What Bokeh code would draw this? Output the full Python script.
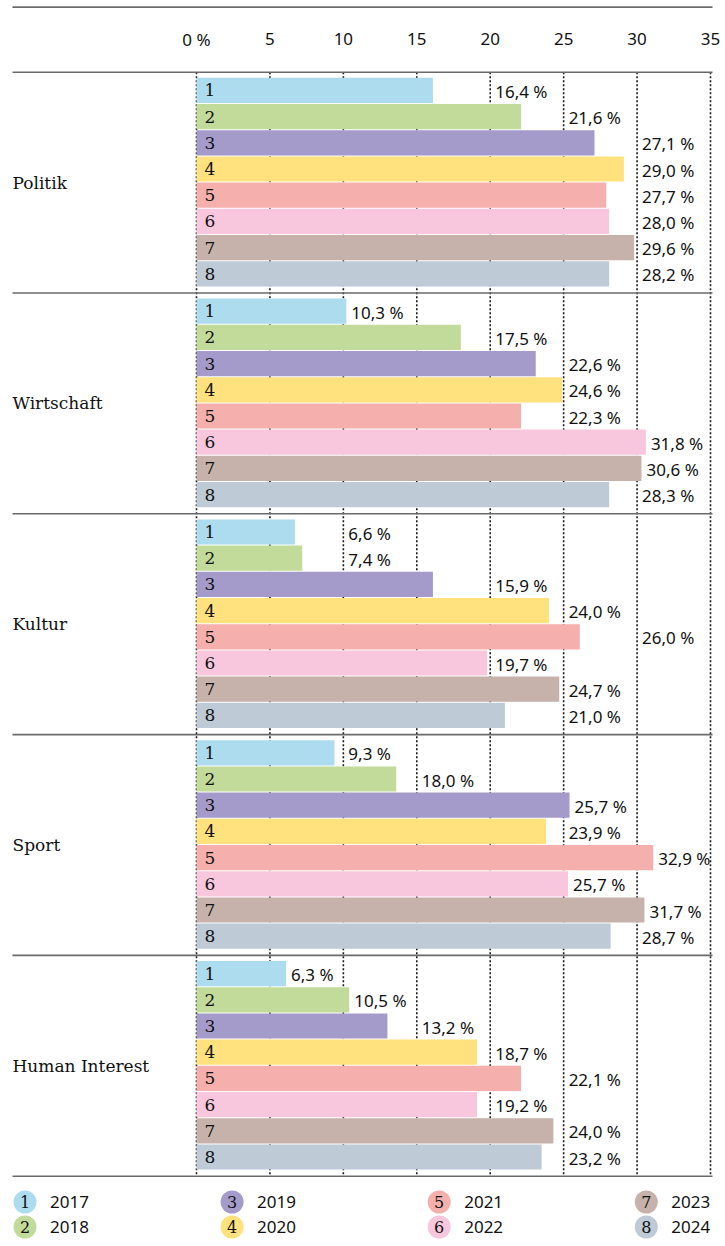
from bokeh.plotting import figure
from bokeh.models import Range1d, ColumnDataSource
from bokeh.embed import file_html
from bokeh.resources import INLINE
from bokeh.core.properties import value

# ---------------- data ----------------
categories = ["Politik", "Wirtschaft", "Kultur", "Sport", "Human Interest"]
years = ["2017", "2018", "2019", "2020", "2021", "2022", "2023", "2024"]
year_numbers = ["1", "2", "3", "4", "5", "6", "7", "8"]
colors = ["#AEDCEF", "#C2DB9A", "#A59BCB", "#FFE17D",
          "#F5AFAC", "#F8C7DE", "#C6B2AB", "#BECAD6"]

# bar lengths as drawn (percent)
politik_bars = [16.1, 22.1, 27.1, 29.1, 27.9, 28.1, 29.8, 28.1]
wirtschaft_bars = [10.2, 18.0, 23.1, 24.9, 22.1, 30.6, 30.3, 28.1]
kultur_bars = [6.7, 7.2, 16.1, 24.0, 26.1, 19.8, 24.7, 21.0]
sport_bars = [9.4, 13.6, 25.4, 23.8, 31.1, 25.3, 30.5, 28.2]
human_bars = [6.1, 10.4, 13.0, 19.1, 22.1, 19.1, 24.3, 23.5]

# printed value labels (percent)
politik_labels = [16.4, 21.6, 27.1, 29.0, 27.7, 28.0, 29.6, 28.2]
wirtschaft_labels = [10.3, 17.5, 22.6, 24.6, 22.3, 31.8, 30.6, 28.3]
kultur_labels = [6.6, 7.4, 15.9, 24.0, 26.0, 19.7, 24.7, 21.0]
sport_labels = [9.3, 18.0, 25.7, 23.9, 32.9, 25.7, 31.7, 28.7]
human_labels = [6.3, 10.5, 13.2, 18.7, 22.1, 19.2, 24.0, 23.2]

tick_values = [0, 5, 10, 15, 20, 25, 30, 35]
tick_labels = ["0 %", "5", "10", "15", "20", "25", "30", "35"]

bar_values = [politik_bars, wirtschaft_bars, kultur_bars, sport_bars, human_bars]
label_values = [politik_labels, wirtschaft_labels, kultur_labels, sport_labels, human_labels]

# ---------------- layout constants (pixels) ----------------
W, H = 725, 1240
X0 = 196.0                 # px of 0 %
PPU = 514.0 / 35.0         # px per percent unit
AXIS_Y = 71.7
GROUP_H = 220.8
BAR_TOP_PAD = 5.6
PITCH = 26.2
BAR_H = 25.2
TOP_RULE_Y = 6.7
TICK_LABEL_Y = 38.5
RULE_L, RULE_R = 12, 712
LABEL_PAD = 5
CHAR_W = 9.0
LEG_X0, LEG_DX = 24.5, 207.1
LEG_Y0, LEG_DY = 1201.5, 25.0

SANS = value("Noto Sans")
SERIF = value("DejaVu Serif")


def px_to_x(px):
    return (px - X0) / PPU


def fmt(v):
    return ("%.1f" % v).replace(".", ",") + " %"


def label_anchor(v, text):
    end_px = v * PPU
    start = end_px + LABEL_PAD
    width = len(text) * CHAR_W
    for t in tick_values[1:-1]:
        gpx = t * PPU
        if end_px < gpx < start + width:
            return t
    return v


p = figure(width=W, height=H,
           x_range=Range1d(px_to_x(0), px_to_x(W)),
           y_range=Range1d(H, 0),
           output_backend="svg", toolbar_location=None,
           x_axis_type=None, y_axis_type=None,
           min_border=0, min_border_left=0, min_border_right=0,
           min_border_top=0, min_border_bottom=0)
p.grid.visible = False
p.outline_line_color = None
p.background_fill_color = "white"
p.border_fill_color = "white"

n_groups = len(categories)
bottom_y = AXIS_Y + n_groups * GROUP_H

# dotted vertical gridlines
p.segment(x0=tick_values, x1=tick_values,
          y0=[AXIS_Y] * len(tick_values), y1=[bottom_y] * len(tick_values),
          line_color="#1a1a1a", line_width=1.6, line_dash="2 2")

# bars
ys, rights, cols, nums, lab_x, lab_y, lab_t = [], [], [], [], [], [], []
for g in range(n_groups):
    for i in range(len(years)):
        yc = AXIS_Y + g * GROUP_H + BAR_TOP_PAD + i * PITCH + BAR_H / 2
        v = bar_values[g][i]
        t = fmt(label_values[g][i])
        ys.append(yc)
        rights.append(v)
        cols.append(colors[i])
        nums.append(year_numbers[i])
        lab_x.append(label_anchor(v, t))
        lab_y.append(yc + 1)
        lab_t.append(t)

bars = ColumnDataSource(dict(y=ys, right=rights, color=cols, num=nums,
                             left=[0] * len(ys)))
p.hbar(y="y", left="left", right="right", height=BAR_H, fill_color="color",
       line_color=None, source=bars)

# bar index numbers
p.text(x="left", y="y", text="num", source=bars, x_offset=8,
       text_font=SERIF, text_font_size="17px", text_color="#111111",
       text_baseline="middle", text_align="left")

# value labels
p.text(x=lab_x, y=lab_y, text=lab_t, x_offset=LABEL_PAD,
       text_font=SANS, text_font_size="17px", text_color="#111111",
       text_baseline="middle", text_align="left")

# horizontal rules: axis line, separators, bottom line, top rule
rule_ys = [AXIS_Y + g * GROUP_H for g in range(n_groups + 1)]
p.segment(x0=[px_to_x(RULE_L)] * len(rule_ys), x1=[px_to_x(RULE_R)] * len(rule_ys),
          y0=rule_ys, y1=rule_ys, line_color="#6a6a6a", line_width=1.6)
p.segment(x0=[px_to_x(RULE_L)], x1=[px_to_x(RULE_R)], y0=[TOP_RULE_Y], y1=[TOP_RULE_Y],
          line_color="#333333", line_width=1.2)

# tick labels
p.text(x=tick_values, y=[TICK_LABEL_Y] * len(tick_values), text=tick_labels,
       text_font=SANS, text_font_size="17px", text_color="#111111",
       text_baseline="middle", text_align="center")

# category labels
cat_y = [AXIS_Y + g * GROUP_H + GROUP_H / 2 for g in range(n_groups)]
p.text(x=[px_to_x(RULE_L)] * n_groups, y=cat_y, text=categories,
       text_font=SERIF, text_font_size="17px", text_color="#111111",
       text_baseline="middle", text_align="left")

# legend
lx = [px_to_x(LEG_X0 + (i // 2) * LEG_DX) for i in range(len(years))]
ly = [LEG_Y0 + (i % 2) * LEG_DY for i in range(len(years))]
p.scatter(x=lx, y=ly, size=23, marker="circle", fill_color=colors, line_color=None)
p.text(x=lx, y=ly, text=year_numbers, text_font=SERIF, text_font_size="16px",
       text_color="#111111", text_baseline="middle", text_align="center")
p.text(x=lx, y=ly, text=years, x_offset=25, text_font=SANS, text_font_size="17px",
       text_color="#111111", text_baseline="middle", text_align="left")

open("out.html", "w").write(file_html(p, INLINE))
